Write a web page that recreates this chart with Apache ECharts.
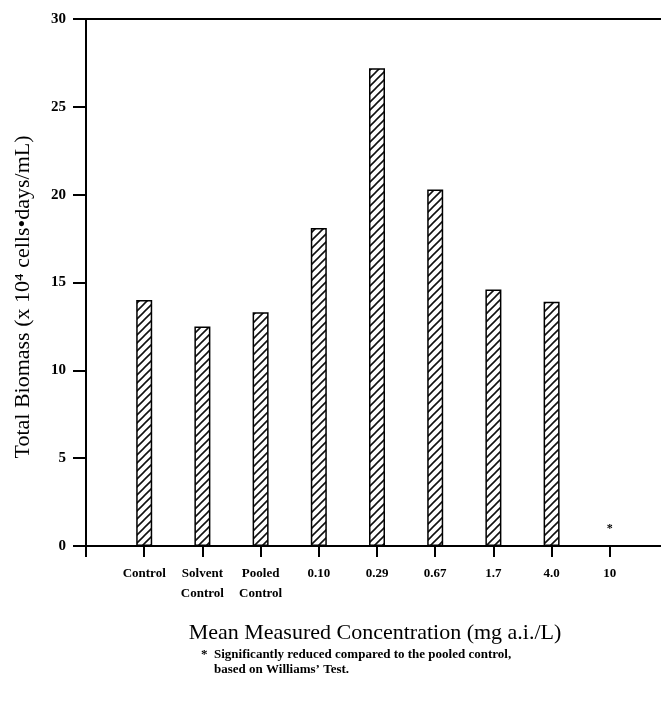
<!DOCTYPE html>
<html>
<head>
<meta charset="utf-8">
<script src="https://cdn.jsdelivr.net/npm/echarts@6/dist/echarts.min.js"></script>
<style>
html,body{margin:0;padding:0;background:#fff;}
#chart{width:661px;height:701px;}
</style>
</head>
<body>
<div id="chart"></div>
<script>
// Data
var categories = ['', 'Control', 'Solvent\nControl', 'Pooled\nControl', '0.10', '0.29', '0.67', '1.7', '4.0', '10', ''];
var biomass = [null, 14.0, 12.5, 13.3, 18.1, 27.2, 20.3, 14.6, 13.9, 0, null];
var significance = ['', '', '', '', '', '', '', '', '', '*', ''];
var yTicks = {min: 0, max: 30, interval: 5};
var yTitle = 'Total Biomass (x 10\u2074 cells\u2022days/mL)';
var xTitle = 'Mean Measured Concentration (mg a.i./L)';
var footnote = '*  Significantly reduced compared to the pooled control,\n    based on Williams\u2019 Test.';

var serif = '"Liberation Serif", "DejaVu Serif", serif';

// hatch pattern
var pc = document.createElement('canvas');
pc.width = 8; pc.height = 8;
var g = pc.getContext('2d');
g.fillStyle = '#fff';
g.fillRect(0, 0, 8, 8);
g.strokeStyle = '#111';
g.lineWidth = 1.6;
g.beginPath();
g.moveTo(-1, 9); g.lineTo(9, -1);
g.moveTo(-5, 5); g.lineTo(5, -5);
g.moveTo(3, 13); g.lineTo(13, 3);
g.stroke();

var chart = echarts.init(document.getElementById('chart'), null, {renderer: 'canvas'});
var option = {
  backgroundColor: '#fff',
  animation: false,
  grid: {left: 86, right: -7, top: 19, bottom: 155, containLabel: false, outerBoundsMode: 'none'},
  xAxis: [{
    type: 'category',
    data: categories,
    boundaryGap: false,
    axisLine: {show: true, lineStyle: {color: '#000', width: 2}},
    axisTick: {show: true, length: 11, lineStyle: {color: '#000', width: 2}, alignWithLabel: true},
    axisLabel: {
      show: true, interval: 0, margin: 18, color: '#000',
      fontFamily: serif, fontSize: 13, fontWeight: 'bold', lineHeight: 20
    },
    splitLine: {show: false}
  }, {
    type: 'category',
    data: categories,
    boundaryGap: false,
    position: 'top',
    axisLine: {show: true, lineStyle: {color: '#000', width: 2}},
    axisTick: {show: false},
    axisLabel: {show: false},
    splitLine: {show: false}
  }],
  yAxis: {
    type: 'value',
    min: yTicks.min, max: yTicks.max, interval: yTicks.interval,
    axisLine: {show: true, lineStyle: {color: '#000', width: 2}},
    axisTick: {show: true, length: 13, lineStyle: {color: '#000', width: 2}},
    axisLabel: {margin: 20, color: '#000', fontFamily: serif, fontSize: 15, fontWeight: 'bold'},
    splitLine: {show: false}
  },
  series: [{
    type: 'bar',
    data: biomass,
    barWidth: 16,
    itemStyle: {
      color: {image: pc, repeat: 'repeat'},
      borderColor: '#000',
      borderWidth: 1.5
    },
    label: {
      show: true,
      position: 'top',
      distance: 10,
      formatter: function (p) { return significance[p.dataIndex]; },
      fontFamily: serif, fontSize: 12, fontWeight: 'bold', color: '#000'
    }
  }],
  graphic: [{
    type: 'text',
    x: 23, y: 297,
    rotation: Math.PI / 2,
    style: {
      text: yTitle, fontFamily: serif, fontSize: 22, fill: '#000',
      align: 'center', verticalAlign: 'middle'
    }
  }, {
    type: 'text',
    x: 375, y: 633,
    style: {
      text: xTitle, fontFamily: serif, fontSize: 22, fill: '#000',
      align: 'center', verticalAlign: 'middle'
    }
  }, {
    type: 'text',
    left: 201, top: 647,
    style: {
      text: footnote,
      fontFamily: serif, fontSize: 13, fontWeight: 'bold', fill: '#000', lineHeight: 15
    }
  }]
};
chart.setOption(option);
</script>
</body>
</html>
